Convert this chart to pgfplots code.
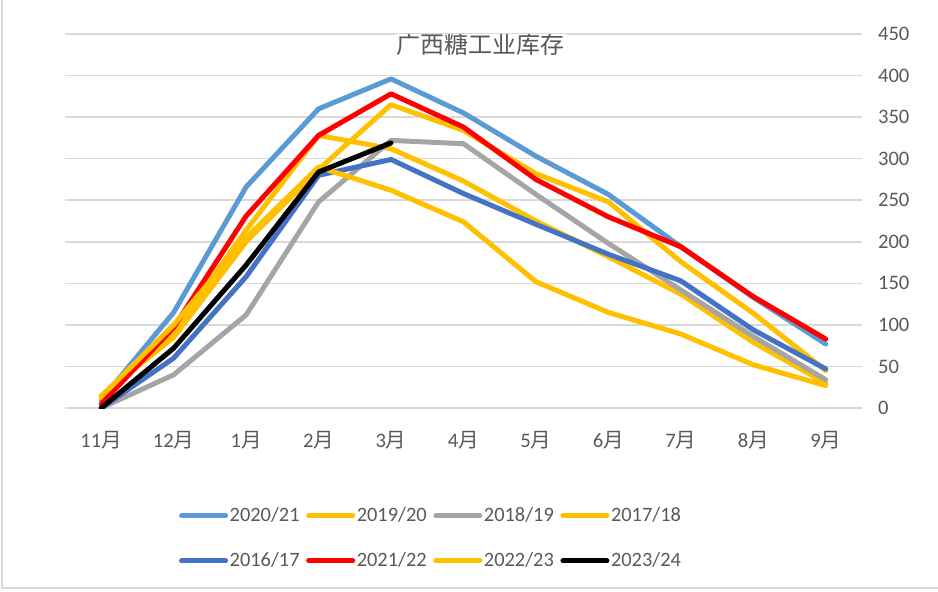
\documentclass[border=0pt]{standalone}
\usepackage{fontspec}
\setmainfont{Carlito}
\newfontfamily\cjk{Noto Sans CJK SC}
\usepackage{pgfplots}
\pgfplotsset{compat=1.18}
\definecolor{c2021}{HTML}{5B9BD5}
\definecolor{cyel}{HTML}{FFC000}
\definecolor{cgray}{HTML}{A5A5A5}
\definecolor{c2017}{HTML}{4472C4}
\definecolor{cred}{HTML}{FF0000}
\definecolor{ctxt}{HTML}{595959}
\definecolor{cgrid}{HTML}{D9D9D9}
\begin{document}
\begin{tikzpicture}
\useasboundingbox (0,0) rectangle (469pt,295.5pt);
\draw[cgrid, line width=0.6pt] (1pt,295.5pt) -- (1pt,1.5pt) -- (469pt,1.5pt);
\begin{axis}[
  at={(32.5pt,91.5pt)}, anchor=south west,
  scale only axis, width=398.5pt, height=187pt,
  xmin=-0.5, xmax=10.5, ymin=0, ymax=450,
  xtick={0,...,10},
  xticklabels={11{\cjk 月},12{\cjk 月},1{\cjk 月},2{\cjk 月},3{\cjk 月},4{\cjk 月},5{\cjk 月},6{\cjk 月},7{\cjk 月},8{\cjk 月},9{\cjk 月}},
  ytick={0,50,...,450},
  yticklabel pos=right,
  axis line style={draw=none},
  major tick length=0pt,
  ymajorgrids, grid style={cgrid, line width=0.75pt},
  /pgf/number format/assume math mode=true,
  tick label style={font=\fontsize{10.3}{12}\selectfont, text=ctxt},
  xticklabel style={anchor=center, yshift=-16pt},
  yticklabel style={anchor=west, xshift=4.5pt},
  every axis plot/.append style={line width=2.5pt, line cap=round, line join=round},
  legend columns=4,
  legend cell align=left,
  legend image code/.code={\draw[#1, line width=2.5pt, line cap=round] (0pt,0pt) -- (22pt,0pt);},
  legend style={at={(0.459,-0.348)}, anchor=center, draw=none, fill=none,
    font=\fontsize{10.2}{12}\selectfont, text=ctxt,
    /tikz/every even column/.append style={column sep=2.5pt},
    row sep=12.5pt, inner sep=0pt,
    nodes={inner sep=0.8pt}},
]
\addplot[c2021] coordinates {(0,10)(1,115)(2,266)(3,360)(4,396)(5,355)(6,303)(7,257)(8,194)(9,133)(10,77)};
\addlegendentry{2020/21}
\addplot[cyel] coordinates {(0,12)(1,92)(2,214)(3,328)(4,312)(5,273)(6,225)(7,182)(8,137)(9,79)(10,30)};
\addlegendentry{2019/20}
\addplot[cgray] coordinates {(0,0)(1,40)(2,112)(3,248)(4,322)(5,318)(6,257)(7,198)(8,142)(9,86)(10,34)};
\addlegendentry{2018/19}
\addplot[cyel] coordinates {(0,15)(1,85)(2,200)(3,287)(4,365)(5,334)(6,282)(7,248)(8,176)(9,114)(10,45)};
\addlegendentry{2017/18}
\addplot[c2017] coordinates {(0,0)(1,60)(2,158)(3,280)(4,299)(5,258)(6,221)(7,185)(8,153)(9,94)(10,47)};
\addlegendentry{2016/17}
\addplot[cred] coordinates {(0,5)(1,97)(2,231)(3,328)(4,378)(5,338)(6,275)(7,230)(8,194)(9,134)(10,83)};
\addlegendentry{2021/22}
\addplot[cyel] coordinates {(0,14)(1,100)(2,205)(3,290)(4,262)(5,224)(6,152)(7,115)(8,89)(9,52)(10,27)};
\addlegendentry{2022/23}
\addplot[black] coordinates {(0,0)(1,72)(2,172)(3,284)(4,319)};
\addlegendentry{2023/24}
\node[fill=white, inner sep=1pt, text=ctxt, font=\cjk\fontsize{12}{14}\selectfont] at (axis cs:5.24,438) {广西糖工业库存};
\end{axis}
\end{tikzpicture}
\end{document}
